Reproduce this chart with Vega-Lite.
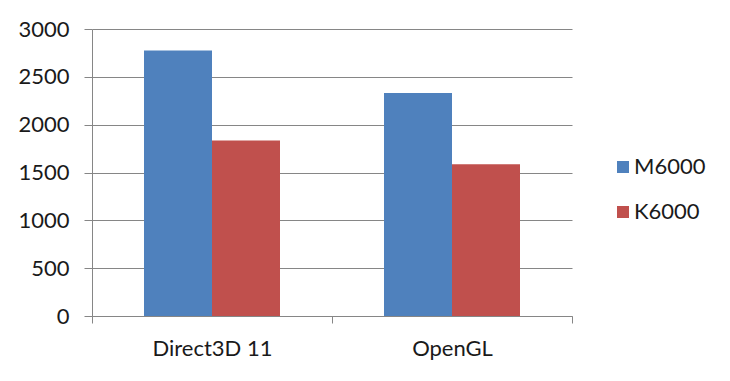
{
  "$schema": "https://vega.github.io/schema/vega-lite/v6.json",
  "width": 480,
  "height": 287,
  "autosize": {"type": "none"},
  "padding": {"left": 92, "top": 29, "right": 158, "bottom": 65},
  "background": "white",
  "config": {
    "view": {"stroke": null},
    "font": "Lato"
  },
  "data": {
    "values": [
      {"api": "Direct3D 11", "gpu": "M6000", "score": 2776},
      {"api": "Direct3D 11", "gpu": "K6000", "score": 1835},
      {"api": "OpenGL", "gpu": "M6000", "score": 2331},
      {"api": "OpenGL", "gpu": "K6000", "score": 1585}
    ]
  },
  "mark": {"type": "bar"},
  "encoding": {
    "x": {
      "field": "api",
      "type": "nominal",
      "sort": null,
      "scale": {"paddingInner": 0, "paddingOuter": 0},
      "axis": {
        "title": null,
        "labelAngle": 0,
        "labelFont": "Lato",
        "labelFontSize": 22,
        "labelColor": "#1a1a1a",
        "labelPadding": 15,
        "tickBand": "extent",
        "tickSize": 7,
        "tickColor": "#868686",
        "domainColor": "#868686",
        "grid": false
      }
    },
    "xOffset": {
      "field": "gpu",
      "type": "nominal",
      "sort": ["M6000", "K6000"],
      "scale": {"paddingInner": 0, "paddingOuter": 0.7647}
    },
    "y": {
      "field": "score",
      "type": "quantitative",
      "scale": {"domain": [0, 3000], "nice": false},
      "axis": {
        "title": null,
        "values": [0, 500, 1000, 1500, 2000, 2500, 3000],
        "format": "d",
        "labelFont": "Lato",
        "labelFontSize": 22,
        "labelColor": "#1a1a1a",
        "labelPadding": 15,
        "tickSize": 8,
        "tickColor": "#868686",
        "domainColor": "#868686",
        "grid": true,
        "gridColor": "#868686",
        "gridOpacity": 1
      }
    },
    "color": {
      "field": "gpu",
      "type": "nominal",
      "sort": ["M6000", "K6000"],
      "scale": {"domain": ["M6000", "K6000"], "range": ["#4F81BD", "#C0504D"]},
      "legend": {
        "title": null,
        "orient": "none",
        "legendX": 520,
        "legendY": 127,
        "symbolType": "square",
        "symbolSize": 144,
        "symbolStrokeWidth": 0,
        "symbolOpacity": 1,
        "labelFont": "Lato",
        "labelFontSize": 22,
        "labelColor": "#1a1a1a",
        "labelOffset": 0,
        "rowPadding": 23
      }
    }
  }
}
